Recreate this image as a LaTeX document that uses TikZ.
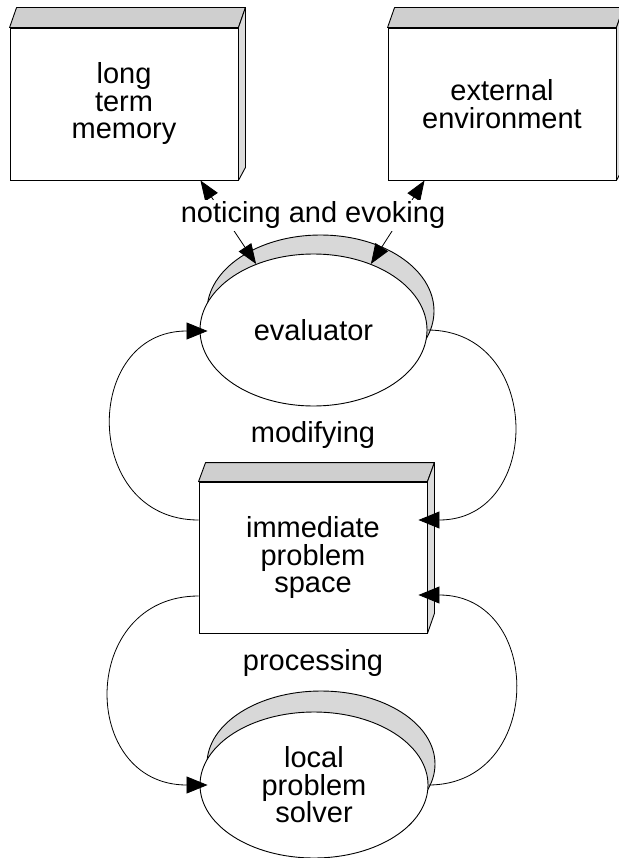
\documentclass[tikz,border=0pt]{standalone}
\usepackage{fontspec}
\setmainfont{Liberation Sans}
\usetikzlibrary{arrows.meta,calc,shapes.geometric}
\definecolor{topface}{HTML}{CFCFCF}
\definecolor{sideface}{HTML}{DCDCDC}
\definecolor{rimfill}{HTML}{D8D8D8}
\begin{document}
\begin{tikzpicture}[x=1pt,y=-1pt,line width=0.9pt,
  lbl/.style={font={\fontsize{29}{27.5}\selectfont},align=center},
  frontbox/.style={draw,fill=white,rectangle,minimum width=228pt,
    minimum height=152pt,inner sep=0pt,lbl},
  disc/.style={draw,fill=white,ellipse,inner sep=0pt,lbl},
  rim/.style={draw,fill=rimfill},
  topfill/.style={draw,fill=topface,line join=round},
  sidefill/.style={draw,fill=sideface,line join=round},
  link/.style={line width=0.8pt,-{Triangle[length=21pt,width=17pt]}},
  dlink/.style={line width=0.8pt,
    {Triangle[length=20pt,width=15pt]}-{Triangle[length=20pt,width=15pt]}}]
\useasboundingbox (0,0) rectangle (618,858);

% long term memory block
\node[frontbox] (ltm) at (124,104) {long\\term\\memory};
\draw[topfill] (ltm.north west) -- ++(7,-20) -- ($(ltm.north east)+(7,-20)$)
  -- (ltm.north east) -- cycle;
\draw[sidefill] (ltm.north east) -- ++(7,-20) -- ($(ltm.south east)+(7,-13)$)
  -- (ltm.south east) -- cycle;

% external environment block
\node[frontbox] (env) at (502,104) {external\\environment};
\draw[topfill] (env.north west) -- ++(7,-20) -- ($(env.north east)+(7,-20)$)
  -- (env.north east) -- cycle;
\draw[sidefill] (env.north east) -- ++(7,-20) -- ($(env.south east)+(7,-13)$)
  -- (env.south east) -- cycle;

% immediate problem space block
\node[frontbox,minimum height=151pt] (ips) at (313,557.5)
  {immediate\\problem\\space};
\draw[topfill] (ips.north west) -- ++(7,-19) -- ($(ips.north east)+(7,-19)$)
  -- (ips.north east) -- cycle;
\draw[sidefill] (ips.north east) -- ++(7,-19) -- ($(ips.south east)+(7,-20)$)
  -- (ips.south east) -- cycle;

% evaluator disc with its rim
\draw[rim] (320.5,311) ellipse [x radius=113.5pt, y radius=76pt];
\node[disc,minimum width=227pt,minimum height=152pt] (eval) at (313.5,330)
  {evaluator};

% local problem solver disc with its rim
\draw[rim] (321,764) ellipse [x radius=114pt, y radius=73pt];
\node[disc,minimum width=228pt,minimum height=146pt] (lps) at (314,785)
  {local\\problem\\solver};

% loops between the space and the two discs
\draw[link] ($(ips.west)+(0,-37.5)$) .. controls +(-117,0) and +(-126,0)
  .. ($(eval.west)+(8,1)$);
\draw[link] (eval.east) .. controls +(116,0) and +(125,0)
  .. ($(ips.east)+(-9,-37.5)$);
\draw[link] (lps.east) .. controls +(116,0) and +(126,0)
  .. ($(ips.east)+(-9,37.5)$);
\draw[link] ($(ips.west)+(0,38.5)$) .. controls +(-120,0) and +(-129,0)
  .. ($(lps.west)+(8,0)$);

% noticing and evoking links
\draw[dlink] ($(ltm.south east)+(-38,0)$) -- (eval.131);
\draw[dlink] ($(env.south west)+(37,0)$) -- (eval.49);

% labels
\node[lbl,fill=white,inner sep=1.5pt,anchor=base] (notice) at (313,223)
  {noticing and evoking};
\node[lbl,anchor=base] (modify) at (313,442) {modifying};
\node[lbl,anchor=base] (process) at (313,670) {processing};
\end{tikzpicture}
\end{document}
